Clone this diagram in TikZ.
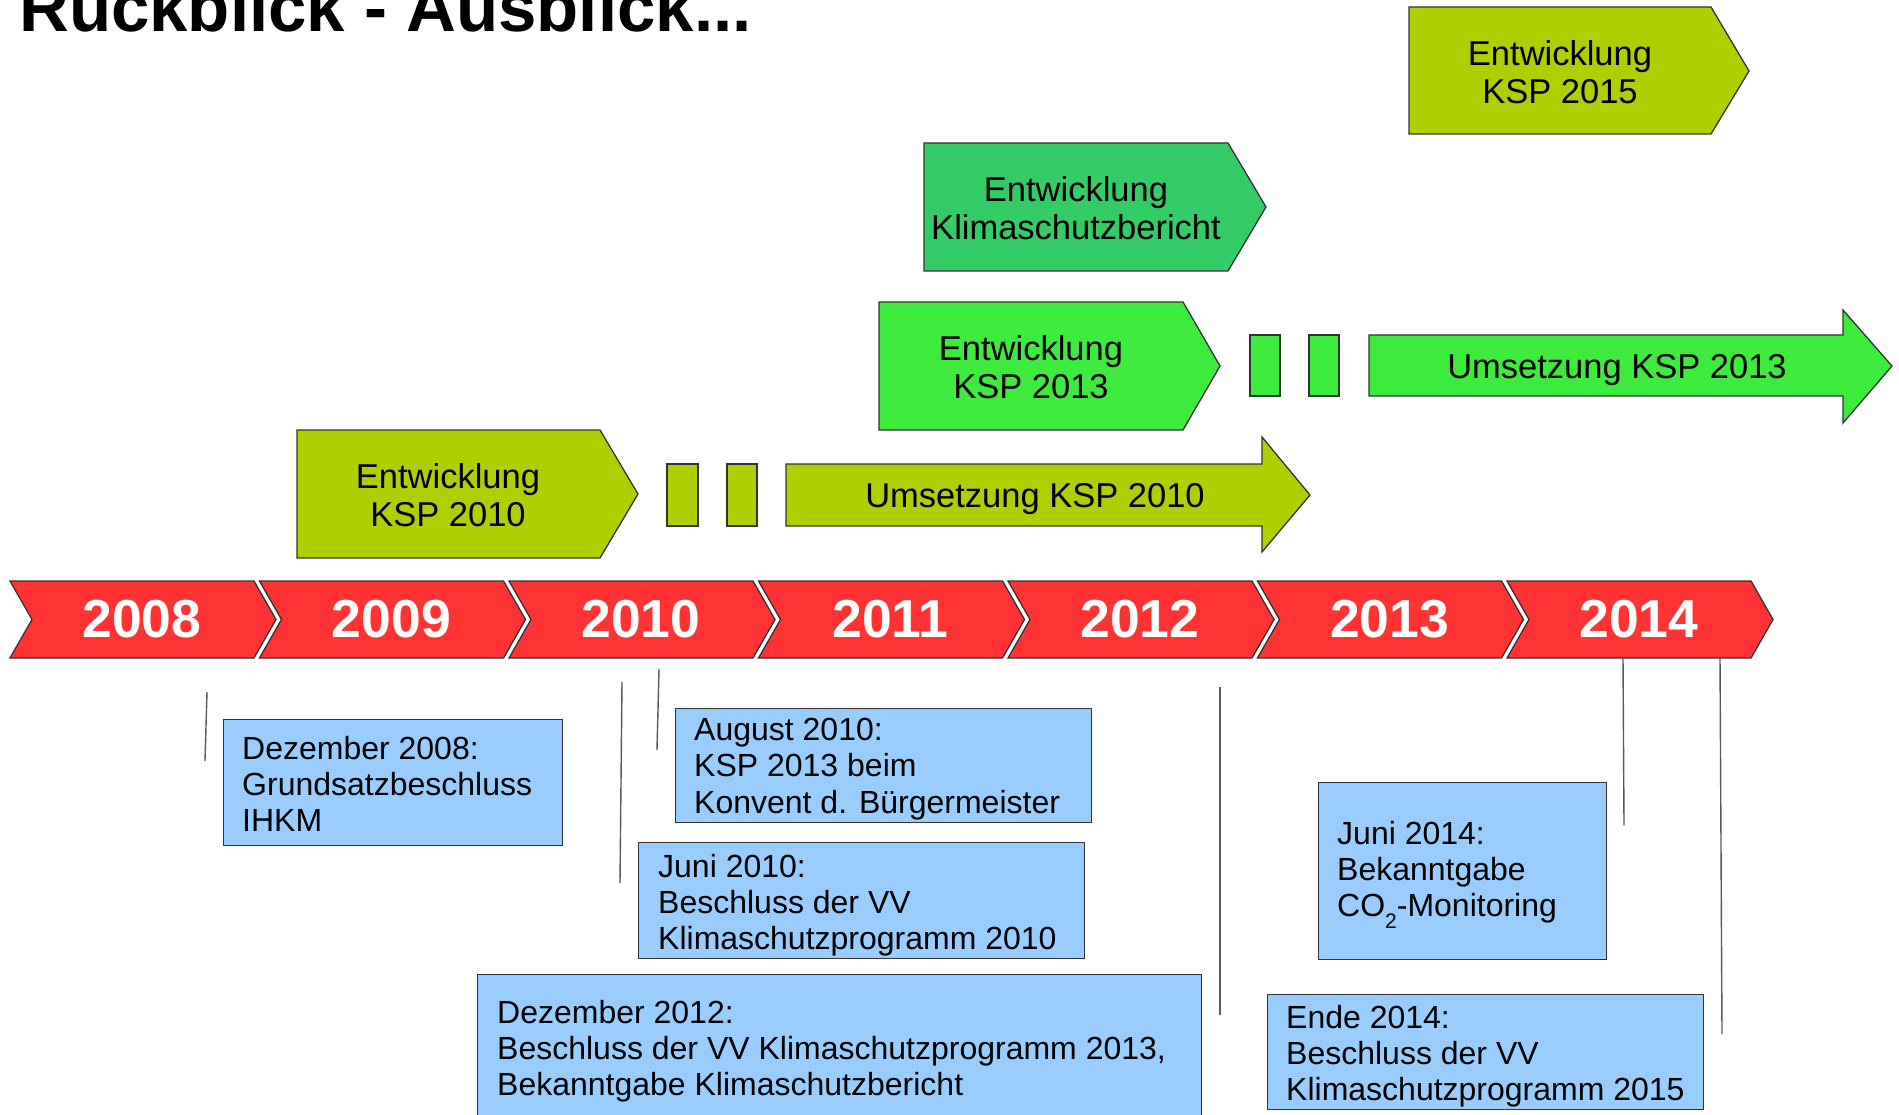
\documentclass[tikz,border=0pt]{standalone}
\usepackage{fontspec}
\setmainfont{Liberation Sans}
\definecolor{yred}{HTML}{FF3333}
\definecolor{ygreen}{HTML}{AECF00}
\definecolor{lgreen}{HTML}{3DEB3D}
\definecolor{mgreen}{HTML}{33CC66}
\definecolor{lblue}{HTML}{99CCFF}
\definecolor{edge}{HTML}{333333}
\begin{document}
\begin{tikzpicture}[x=1pt,y=-1pt,
  shapeline/.style={draw=edge,line width=1.3pt},
  yeartext/.style={text=white,font=\bfseries\fontsize{53.5}{56}\selectfont,anchor=base,inner sep=0pt},
  boxtext/.style={font=\fontsize{34.5}{38}\selectfont,align=center,inner sep=0pt},
  bluebox/.style={draw=edge,line width=1.3pt,fill=lblue,anchor=north west,inner sep=0pt},
  bluetext/.style={font=\fontsize{32}{36.3}\selectfont,align=left,anchor=north west,inner sep=0pt},
  tick/.style={draw=black!65,line width=1.4pt}]
\useasboundingbox (0,0) rectangle (1899,1115);
\clip (0,0) rectangle (1899,1115);
\fill[white] (0,0) rectangle (1899,1115);

% title
\node[anchor=base west,inner sep=0pt,font=\bfseries\fontsize{69}{72}\selectfont] (title) at (19,32) {Rückblick - Ausblick...};

% year chevrons
\foreach \i/\yr in {0/2008,1/2009,2/2010,3/2011,4/2012,5/2013,6/2014}{
  \pgfmathsetmacro{\xx}{10+249.5*\i}
  \path[shapeline,fill=yred] (\xx,581) -- (\xx+244,581) -- (\xx+266,619.5) -- (\xx+244,658) -- (\xx,658) -- (\xx+22,619.5) -- cycle;
  \node[yeartext] (y\yr) at (\xx+132,637) {\yr};
}

% Entwicklung KSP 2010
\path[shapeline,fill=ygreen] (297,430) -- (600,430) -- (638,494) -- (600,558) -- (297,558) -- cycle;
\node[boxtext] (e2010) at (448,495) {Entwicklung\\KSP 2010};
\path[shapeline,fill=ygreen] (667,464) rectangle (698,526);
\path[shapeline,fill=ygreen] (727,464) rectangle (757,526);
\path[shapeline,fill=ygreen] (786,464) -- (1262,464) -- (1262,437) -- (1310,495) -- (1262,552) -- (1262,526) -- (786,526) -- cycle;
\node[boxtext] (u2010) at (1035,499) {Umsetzung KSP 2010};

% Entwicklung KSP 2013
\path[shapeline,fill=lgreen] (879,302) -- (1183,302) -- (1220,366) -- (1183,430) -- (879,430) -- cycle;
\node[boxtext] (e2013) at (1031,367) {Entwicklung\\KSP 2013};
\path[shapeline,fill=lgreen] (1250,335) rectangle (1280,396);
\path[shapeline,fill=lgreen] (1309,335) rectangle (1339,396);
\path[shapeline,fill=lgreen] (1369,335) -- (1843,335) -- (1843,310) -- (1892,366) -- (1843,423) -- (1843,396) -- (1369,396) -- cycle;
\node[boxtext] (u2013) at (1617,370) {Umsetzung KSP 2013};

% Entwicklung Klimaschutzbericht
\path[shapeline,fill=mgreen] (924,143) -- (1228,143) -- (1266,207) -- (1228,271) -- (924,271) -- cycle;
\node[boxtext] (ekb) at (1076,208) {Entwicklung\\Klimaschutzbericht};

% Entwicklung KSP 2015
\path[shapeline,fill=ygreen] (1409,7) -- (1711,7) -- (1749,71) -- (1711,134) -- (1409,134) -- cycle;
\node[boxtext] (e2015) at (1560,72) {Entwicklung\\KSP 2015};

% blue boxes
\node[bluebox,minimum width=339pt,minimum height=126pt] (b2008) at (223,719) {};
\node[bluetext] (t2008) at (242,736) {Dezember 2008:\\Grundsatzbeschluss\\IHKM};

\node[bluebox,minimum width=416pt,minimum height=114pt] (b2010a) at (675,708) {};
\node[bluetext] (t2010a) at (694,718) {August 2010:\\KSP 2013 beim\\Konvent d. Bürgermeister};

\node[bluebox,minimum width=446pt,minimum height=116pt] (b2010j) at (638,842) {};
\node[bluetext] (t2010j) at (658,854) {Juni 2010:\\Beschluss der VV\\Klimaschutzprogramm 2010};

\node[bluebox,minimum width=724pt,minimum height=170pt] (b2012) at (477,974) {};
\node[bluetext] (t2012) at (497,1000) {Dezember 2012:\\Beschluss der VV Klimaschutzprogramm 2013,\\Bekanntgabe Klimaschutzbericht};

\node[bluebox,minimum width=288pt,minimum height=177pt] (b2014j) at (1318,782) {};
\node[bluetext] (t2014j) at (1337,821) {Juni 2014:\\Bekanntgabe\\CO\raisebox{-0.35em}{\fontsize{21}{21}\selectfont 2}-Monitoring};

\node[bluebox,minimum width=436pt,minimum height=115pt] (b2014e) at (1267,994) {};
\node[bluetext] (t2014e) at (1286,1005) {Ende 2014:\\Beschluss der VV\\Klimaschutzprogramm 2015};

% tick lines
\coordinate (l1a) at (207,692); \coordinate (l1b) at (205,761);
\coordinate (l2a) at (622,682); \coordinate (l2b) at (620,883);
\coordinate (l3a) at (659,669); \coordinate (l3b) at (657,750);
\coordinate (l4a) at (1220,687); \coordinate (l4b) at (1220,1015);
\coordinate (l5a) at (1623,658); \coordinate (l5b) at (1624,825);
\coordinate (l6a) at (1720,658); \coordinate (l6b) at (1722,1034);
\draw[tick] (l1a) -- (l1b);
\draw[tick] (l2a) -- (l2b);
\draw[tick] (l3a) -- (l3b);
\draw[tick] (l4a) -- (l4b);
\draw[tick] (l5a) -- (l5b);
\draw[tick] (l6a) -- (l6b);
\end{tikzpicture}
\end{document}
